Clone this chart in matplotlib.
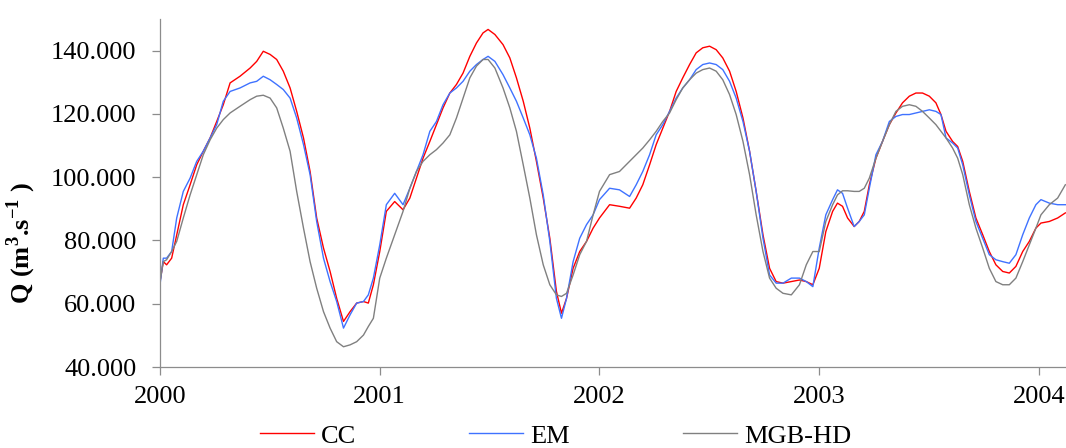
import matplotlib.pyplot as plt
from matplotlib.ticker import FuncFormatter

plt.rcParams['font.family'] = ['Liberation Serif', 'DejaVu Serif']
plt.rcParams['mathtext.fontset'] = 'custom'
plt.rcParams['mathtext.rm'] = 'Liberation Serif'
plt.rcParams['mathtext.bf'] = 'Liberation Serif:bold'

# time axis (decimal years)
years = [
    2000.000, 2000.015, 2000.030, 2000.053, 2000.076, 2000.106, 2000.137, 2000.167, 2000.197, 2000.228,
    2000.258, 2000.288, 2000.319, 2000.364, 2000.410, 2000.440, 2000.470, 2000.501, 2000.531, 2000.561,
    2000.592, 2000.622, 2000.653, 2000.683, 2000.713, 2000.744, 2000.774, 2000.804, 2000.835, 2000.865,
    2000.895, 2000.926, 2000.948, 2000.971,
    2001.000, 2001.030, 2001.068, 2001.106, 2001.137, 2001.167, 2001.197, 2001.228, 2001.258, 2001.288,
    2001.319, 2001.349, 2001.379, 2001.410, 2001.440, 2001.470, 2001.493, 2001.524, 2001.561, 2001.592,
    2001.622, 2001.653, 2001.683, 2001.713, 2001.744, 2001.774, 2001.804, 2001.827, 2001.850, 2001.880,
    2001.910, 2001.941, 2001.971,
    2002.000, 2002.046, 2002.091, 2002.137, 2002.167, 2002.197, 2002.228, 2002.258, 2002.288, 2002.319,
    2002.349, 2002.379, 2002.410, 2002.440, 2002.470, 2002.501, 2002.531, 2002.561, 2002.592, 2002.622,
    2002.653, 2002.683, 2002.713, 2002.744, 2002.774, 2002.804, 2002.835, 2002.873, 2002.910, 2002.941,
    2002.971,
    2003.000, 2003.030, 2003.061, 2003.083, 2003.106, 2003.129, 2003.159, 2003.182, 2003.205, 2003.228,
    2003.258, 2003.288, 2003.319, 2003.349, 2003.379, 2003.410, 2003.440, 2003.470, 2003.501, 2003.531,
    2003.554, 2003.577, 2003.607, 2003.630, 2003.653, 2003.683, 2003.713, 2003.744, 2003.774, 2003.804,
    2003.835, 2003.865, 2003.895, 2003.926, 2003.956, 2003.986, 2004.009, 2004.047, 2004.085, 2004.120,
]

cc = [
    67.0, 73.3, 72.3, 74.4, 81.8, 91.3, 97.6, 103.9, 108.2, 112.4,
    117.6, 122.9, 129.8, 131.9, 134.5, 136.6, 139.8, 138.8, 137.2, 133.5,
    128.2, 120.8, 112.4, 101.8, 87.1, 77.6, 70.2, 61.7, 54.4, 57.5,
    60.2, 60.7, 60.2, 66.0,
    76.5, 89.2, 92.3, 89.7, 93.4, 99.7, 106.0, 111.3, 116.6, 121.9,
    126.6, 129.3, 132.9, 138.2, 142.4, 145.6, 146.7, 145.1, 141.9, 137.7,
    131.4, 124.0, 115.5, 105.0, 93.4, 80.7, 63.9, 57.0, 61.7, 71.2,
    76.5, 79.7, 83.9,
    87.1, 91.3, 90.8, 90.2, 93.4, 97.6, 103.9, 110.3, 115.5, 120.8,
    127.1, 131.4, 135.6, 139.3, 140.9, 141.4, 140.3, 137.7, 133.5, 127.1,
    118.7, 108.2, 95.5, 81.8, 71.2, 67.0, 66.5, 67.0, 67.5, 67.0,
    66.0,
    71.2, 82.8, 89.2, 91.8, 90.8, 87.1, 84.4, 86.0, 89.2, 97.6,
    106.0, 111.3, 116.6, 120.3, 123.5, 125.6, 126.6, 126.6, 125.6, 123.5,
    119.8, 114.5, 111.3, 109.7, 105.0, 95.5, 87.1, 81.8, 76.5, 72.3,
    70.2, 69.7, 71.8, 76.5, 79.7, 83.9, 85.5, 86.0, 87.1, 88.7,
]

em = [
    66.0, 74.4, 74.4, 76.5, 87.1, 95.5, 99.7, 105.0, 108.2, 112.4,
    116.6, 124.0, 127.1, 128.2, 129.8, 130.3, 131.9, 130.8, 129.3, 127.7,
    125.0, 118.7, 110.3, 100.8, 86.0, 74.4, 67.0, 60.7, 52.3, 56.5,
    60.2, 60.7, 62.8, 68.1,
    78.6, 91.3, 94.9, 91.3, 96.5, 101.8, 107.1, 114.5, 117.6, 122.9,
    126.6, 128.2, 130.3, 133.5, 135.6, 137.2, 138.2, 136.6, 132.4, 128.2,
    124.0, 118.7, 113.4, 106.0, 94.4, 79.7, 61.7, 55.4, 61.7, 73.3,
    80.7, 85.0, 88.1,
    92.9, 96.5, 96.0, 93.9, 97.6, 101.8, 107.1, 113.4, 116.6, 120.8,
    125.0, 128.2, 130.8, 134.0, 135.6, 136.1, 135.6, 134.0, 130.3, 125.0,
    117.6, 108.2, 95.5, 80.7, 69.1, 66.5, 66.5, 68.1, 68.1, 67.0,
    65.4,
    77.6, 88.1, 92.9, 96.0, 94.9, 90.2, 84.4, 86.0, 88.1, 96.5,
    107.1, 111.3, 117.6, 119.2, 119.8, 119.8, 120.3, 120.8, 121.3, 120.8,
    119.8, 112.4, 110.8, 109.2, 103.9, 94.4, 86.0, 80.7, 75.5, 73.9,
    73.3, 72.8, 75.5, 81.8, 87.1, 91.3, 92.9, 91.8, 91.3, 91.3,
]

mgb = [
    67.0, 73.3, 73.9, 76.5, 79.7, 87.1, 94.4, 100.8, 107.1, 111.8,
    115.5, 118.2, 120.3, 122.4, 124.5, 125.6, 125.9, 125.0, 121.9, 115.5,
    108.2, 95.5, 83.9, 73.3, 64.9, 57.5, 52.3, 48.0, 46.4, 47.0,
    48.0, 50.1, 52.8, 55.4,
    68.1, 74.4, 81.8, 89.2, 96.5, 101.8, 105.0, 107.1, 108.7, 110.8,
    113.4, 118.7, 125.0, 131.4, 135.1, 137.2, 137.2, 134.5, 128.2, 121.9,
    114.5, 103.9, 93.4, 81.8, 72.3, 66.0, 62.8, 62.3, 63.3, 69.1,
    75.5, 79.7, 88.1,
    95.5, 100.8, 101.8, 105.0, 107.1, 109.2, 111.8, 114.5, 117.6, 120.3,
    124.5, 128.2, 130.8, 132.9, 134.0, 134.5, 133.5, 130.8, 126.1, 119.8,
    111.3, 100.8, 88.1, 76.5, 68.1, 64.9, 63.3, 62.8, 66.0, 72.3,
    76.5,
    76.5, 86.0, 91.3, 94.4, 95.7, 95.7, 95.5, 95.5, 96.5, 99.7,
    106.0, 111.3, 116.6, 120.8, 122.4, 122.9, 122.4, 120.8, 118.7, 116.6,
    114.5, 112.4, 109.2, 106.0, 100.8, 91.3, 83.9, 77.6, 71.2, 67.0,
    66.0, 66.0, 68.1, 73.3, 78.6, 83.9, 88.1, 91.3, 93.4, 97.6,
]

labels = ['CC', 'EM', 'MGB-HD']
year_ticks = [2000, 2001, 2002, 2003, 2004]
q_ticks = [40, 60, 80, 100, 120, 140]

fig = plt.figure(figsize=(10.66, 4.48), dpi=100)
ax = fig.add_axes([0.1501, 0.1808, 0.8499, 0.7768])

ax.plot(years, cc, color='#ff0000', linewidth=1.0, label=labels[0])
ax.plot(years, em, color='#3f72ff', linewidth=1.0, label=labels[1])
ax.plot(years, mgb, color='#808080', linewidth=1.0, label=labels[2])

ax.set_xlim(2000, 2004.123)
ax.set_ylim(40, 150)
ax.set_xticks(year_ticks)
ax.set_xticklabels([str(y) for y in year_ticks])
ax.set_yticks(q_ticks)
ax.yaxis.set_major_formatter(FuncFormatter(lambda v, p: '%d.000' % v))

for s in ['top', 'right']:
    ax.spines[s].set_visible(False)
for s in ['left', 'bottom']:
    ax.spines[s].set_color('#8c8c8c')
    ax.spines[s].set_linewidth(0.9)
ax.tick_params(axis='both', direction='out', length=5.5, width=0.9, color='#8c8c8c',
               labelsize=19)
ax.tick_params(axis='y', pad=11.5)
ax.tick_params(axis='x', pad=8.5)

ax.set_ylabel(r'Q (m$^{\mathbf{3}}$.s$^{\mathbf{-1}}$ )', fontsize=19, fontweight='bold')
ax.yaxis.set_label_coords(-0.1347, 0.356)

fig.legend(loc='center', bbox_to_anchor=(0.521, 0.027), ncol=3, frameon=False,
           fontsize=19, handlelength=2.05, handletextpad=0.25, columnspacing=4.3)

plt.savefig('out.png', dpi=100)
